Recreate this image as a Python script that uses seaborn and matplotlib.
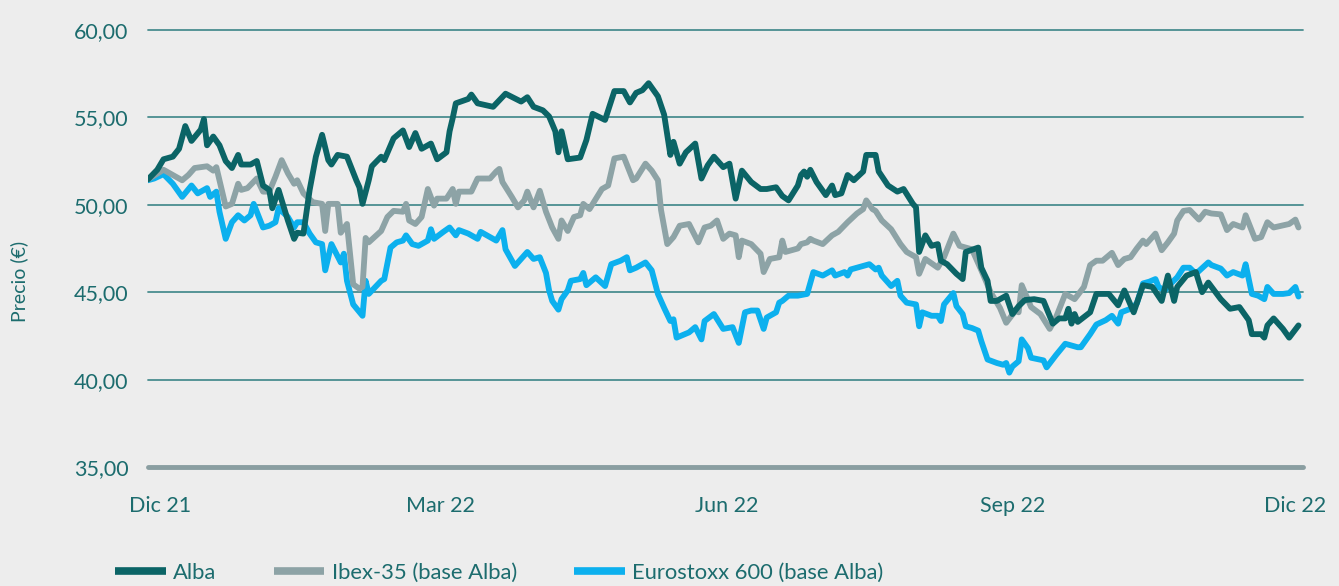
import pandas as pd
import matplotlib.pyplot as plt
import seaborn as sns
from matplotlib.lines import Line2D

# -----------------------------------
# Data (days counted from INICIO, price in EUR)
# -----------------------------------
INICIO = pd.Timestamp("2021-11-27")

alba_dias = [0, 3, 5, 8, 10, 12, 14, 17, 18, 19, 21, 23, 25, 27, 29, 30, 33, 35, 37, 39,
             40, 42, 45, 47, 48, 50, 52, 54, 56, 58, 59, 61, 64, 67, 68, 69, 71, 72, 75, 76,
             79, 82, 84, 86, 88, 91, 93, 96, 97, 98, 99, 103, 104, 106, 111, 115, 120, 122, 124, 127,
             129, 131, 132, 133, 135, 139, 141, 143, 147, 150, 153, 155, 157, 159, 161, 164, 166, 168, 169, 171,
             173, 176, 178, 180, 182, 185, 187, 189, 191, 194, 197, 199, 202, 204, 206, 209, 210, 211, 212, 213,
             215, 218, 220, 221, 223, 225, 227, 230, 231, 234, 235, 238, 241, 243, 246, 247, 248, 250, 252, 254,
             255, 257, 260, 262, 263, 267, 268, 270, 271, 273, 276, 278, 280, 282, 285, 288, 291, 293, 295, 296,
             297, 298, 299, 303, 305, 309, 312, 314, 317, 320, 323, 326, 328, 330, 331, 334, 337, 339, 341, 345,
             348, 351, 354, 355, 358, 359, 360, 362, 365, 367, 370]
alba_precio = [51.45, 52.0, 52.6, 52.75, 53.2, 54.5, 53.65, 54.3, 54.9, 53.4, 53.9, 53.4, 52.5, 52.1, 52.85, 52.3, 52.3, 52.5, 51.1, 50.85,
               49.8, 50.85, 49.1, 48.05, 48.4, 48.35, 50.85, 52.75, 54.0, 52.55, 52.3, 52.85, 52.75, 51.4, 51.0, 50.05, 51.4, 52.2, 52.75, 52.55,
               53.8, 54.25, 53.3, 54.1, 53.2, 53.5, 52.6, 53.0, 54.2, 54.95, 55.8, 56.05, 56.3, 55.8, 55.6, 56.35, 55.9, 56.15, 55.6, 55.4,
               55.05, 54.2, 53.0, 54.2, 52.6, 52.7, 53.7, 55.2, 54.85, 56.5, 56.5, 55.85, 56.4, 56.55, 56.95, 56.2, 55.15, 52.85, 53.6, 52.35,
               53.0, 53.5, 51.5, 52.25, 52.75, 52.15, 52.35, 50.35, 51.95, 51.3, 50.9, 50.9, 51.0, 50.5, 50.25, 51.1, 51.7, 51.9, 51.6, 52.0,
               51.3, 50.55, 51.1, 50.55, 50.65, 51.7, 51.4, 51.9, 52.85, 52.85, 51.9, 51.1, 50.75, 50.9, 50.05, 49.85, 47.3, 48.25, 47.65, 47.75,
               46.8, 46.6, 46.05, 45.75, 47.3, 47.55, 46.4, 45.65, 44.5, 44.5, 44.8, 43.75, 44.2, 44.55, 44.6, 44.5, 43.2, 43.5, 43.5, 44.05,
               43.2, 43.75, 43.3, 43.85, 44.9, 44.9, 44.25, 45.1, 43.85, 45.4, 45.3, 44.5, 45.95, 44.5, 45.3, 45.95, 46.15, 45.0, 45.55, 44.6,
               44.05, 44.15, 43.4, 42.6, 42.6, 42.4, 43.1, 43.5, 42.9, 42.4, 43.1]

ibex_dias = [0, 5, 8, 11, 13, 15, 19, 21, 22, 23, 25, 27, 29, 30, 32, 35, 37, 39, 41, 43,
             45, 47, 48, 50, 53, 56, 57, 58, 61, 62, 64, 66, 68, 69, 70, 71, 75, 77, 79, 82,
             83, 84, 86, 88, 90, 92, 93, 96, 98, 99, 100, 104, 106, 110, 112, 113, 114, 117, 119, 121,
             122, 124, 126, 128, 130, 132, 133, 135, 137, 139, 140, 142, 146, 148, 150, 153, 156, 157, 160, 162,
             164, 165, 167, 169, 171, 174, 177, 179, 181, 183, 185, 187, 189, 190, 191, 194, 197, 198, 200, 203,
             204, 205, 209, 210, 212, 213, 214, 217, 220, 222, 225, 228, 230, 231, 233, 234, 236, 239, 242, 244,
             247, 248, 250, 254, 256, 259, 261, 263, 265, 268, 271, 274, 276, 279, 280, 281, 284, 287, 290, 292,
             295, 298, 301, 303, 305, 307, 310, 312, 314, 316, 318, 320, 321, 324, 326, 328, 330, 331, 333, 335,
             338, 340, 342, 345, 347, 349, 352, 353, 356, 358, 360, 362, 367, 369, 370]
ibex_precio = [51.45, 52.0, 51.7, 51.4, 51.7, 52.1, 52.2, 51.95, 52.15, 51.4, 49.9, 50.05, 51.2, 50.85, 50.95, 51.5, 50.75, 50.75, 51.6, 52.55,
               51.8, 51.2, 51.4, 50.65, 50.15, 50.05, 48.5, 50.05, 50.05, 48.4, 48.9, 45.45, 45.2, 45.3, 48.1, 47.85, 48.5, 49.3, 49.65, 49.6,
               50.05, 49.1, 48.9, 49.3, 50.9, 49.95, 50.35, 50.35, 50.9, 50.05, 50.75, 50.75, 51.5, 51.5, 51.9, 52.05, 51.3, 50.45, 49.85, 50.25,
               50.75, 49.85, 50.8, 49.6, 48.7, 48.05, 49.1, 48.5, 49.3, 49.4, 50.05, 49.75, 50.9, 51.1, 52.65, 52.75, 51.4, 51.5, 52.35, 51.95,
               51.4, 49.7, 47.75, 48.15, 48.8, 48.9, 47.85, 48.7, 48.8, 49.1, 48.05, 48.35, 48.25, 47.0, 47.95, 47.75, 47.2, 46.15, 46.9, 47.0,
               47.95, 47.3, 47.5, 47.75, 47.85, 48.05, 47.95, 47.75, 48.25, 48.45, 49.0, 49.5, 49.75, 50.25, 49.75, 49.65, 49.1, 48.6, 47.75, 47.3,
               47.0, 46.05, 46.9, 46.4, 47.0, 48.35, 47.65, 47.55, 47.45, 46.25, 45.0, 44.1, 43.25, 43.95, 43.85, 45.4, 44.15, 43.75, 42.9, 43.55,
               44.9, 44.6, 45.3, 46.55, 46.8, 46.8, 47.25, 46.55, 46.9, 47.0, 47.5, 47.95, 47.75, 48.35, 47.4, 47.85, 48.35, 49.1, 49.65, 49.7,
               49.15, 49.6, 49.5, 49.45, 48.55, 48.9, 48.7, 49.4, 48.05, 48.15, 49.0, 48.7, 48.9, 49.15, 48.7]

euro_dias = [0, 2, 5, 8, 11, 14, 16, 19, 20, 22, 23, 25, 27, 29, 31, 33, 34, 37, 39, 41,
             42, 45, 47, 48, 50, 52, 54, 56, 57, 59, 62, 63, 64, 66, 69, 70, 71, 75, 76, 78,
             80, 82, 83, 85, 87, 90, 91, 92, 95, 97, 99, 100, 103, 106, 107, 109, 112, 114, 115, 118,
             120, 122, 124, 126, 128, 129, 130, 132, 133, 135, 136, 139, 140, 141, 144, 147, 149, 152, 154, 155,
             157, 160, 162, 164, 166, 168, 169, 170, 174, 176, 178, 179, 182, 185, 188, 190, 192, 194, 196, 198,
             199, 202, 203, 204, 206, 209, 212, 214, 217, 220, 221, 224, 225, 226, 232, 234, 235, 236, 239, 241,
             242, 244, 247, 248, 249, 252, 254, 255, 256, 259, 260, 262, 263, 265, 267, 268, 270, 273, 275, 276,
             277, 278, 280, 281, 283, 284, 288, 289, 292, 295, 299, 300, 303, 305, 308, 310, 312, 313, 316, 318,
             320, 322, 324, 325, 327, 329, 331, 333, 335, 337, 341, 342, 345, 347, 349, 352, 353, 355, 357, 359,
             360, 362, 365, 367, 369, 370]
euro_precio = [51.4, 51.5, 51.75, 51.2, 50.45, 51.1, 50.65, 50.95, 50.45, 50.75, 49.6, 48.05, 49.0, 49.4, 49.1, 49.4, 50.05, 48.7, 48.8, 49.0,
               49.8, 49.3, 48.7, 49.0, 49.0, 48.35, 47.85, 47.75, 46.25, 47.75, 46.7, 47.2, 45.65, 44.3, 43.65, 45.65, 44.9, 45.65, 45.75, 47.55,
               47.85, 47.95, 48.25, 47.75, 47.65, 47.95, 48.6, 48.05, 48.45, 48.7, 48.25, 48.55, 48.35, 48.05, 48.45, 48.25, 47.95, 48.55, 47.45, 46.5,
               46.9, 47.3, 46.9, 47.0, 46.1, 45.1, 44.5, 44.0, 44.6, 45.1, 45.65, 45.75, 46.1, 45.4, 45.85, 45.35, 46.6, 46.8, 47.0, 46.25,
               46.4, 46.7, 46.25, 44.9, 44.1, 43.35, 43.45, 42.4, 42.7, 43.0, 42.3, 43.35, 43.75, 42.9, 43.0, 42.1, 43.85, 43.95, 43.95, 42.9,
               43.55, 43.85, 44.4, 44.5, 44.8, 44.8, 44.9, 46.15, 45.95, 46.25, 45.95, 46.15, 45.95, 46.3, 46.6, 46.3, 46.4, 45.95, 45.35, 45.65,
               44.8, 44.4, 44.3, 43.05, 43.85, 43.65, 43.65, 43.35, 44.3, 44.95, 44.2, 43.75, 43.05, 42.95, 42.8, 42.2, 41.15, 40.95, 40.85, 40.95,
               40.4, 40.75, 41.05, 42.3, 41.8, 41.25, 41.1, 40.7, 41.4, 42.05, 41.85, 41.85, 42.6, 43.15, 43.4, 43.65, 43.2, 43.85, 44.05, 44.35,
               45.5, 45.6, 45.75, 45.3, 45.1, 45.5, 45.85, 46.4, 46.4, 46.05, 46.7, 46.55, 46.35, 45.95, 46.15, 45.95, 46.6, 44.9, 44.8, 44.6,
               45.3, 44.9, 44.9, 44.95, 45.3, 44.75]

series = ["Alba", "Ibex-35 (base Alba)", "Eurostoxx 600 (base Alba)"]
y_ticks = [35, 40, 45, 50, 55, 60]
y_tick_labels = ["35,00", "40,00", "45,00", "50,00", "55,00", "60,00"]
x_ticks = ["2021-12-01", "2022-03-01", "2022-06-01", "2022-09-01", "2022-12-01"]
x_tick_labels = ["Dic 21", "Mar 22", "Jun 22", "Sep 22", "Dic 22"]

# -----------------------------------
# Long-form table
# -----------------------------------
frames = []
for name, dias, precio in zip(series,
                              [alba_dias, ibex_dias, euro_dias],
                              [alba_precio, ibex_precio, euro_precio]):
    frames.append(pd.DataFrame({
        "fecha": INICIO + pd.to_timedelta(dias, unit="D"),
        "precio": precio,
        "serie": name,
    }))
df = pd.concat(frames, ignore_index=True)

# -----------------------------------
# Style
# -----------------------------------
BG = "#ededed"
TEXT = "#1c6c6e"
GRID = "#4a8d8f"
colors = {series[0]: "#0b6466", series[1]: "#8da3a6", series[2]: "#0cb0ee"}

sns.set_style("white")
plt.rcParams["font.family"] = ["Lato", "DejaVu Sans"]

fig = plt.figure(figsize=(13.39, 5.86), dpi=100, facecolor=BG)
ax = fig.add_axes([0.1105, 0.203, 0.8625, 0.746])
ax.set_facecolor(BG)

for v in y_ticks[1:]:
    ax.axhline(v, color=GRID, lw=1.3, zorder=1, clip_on=False)
ax.axhline(35, color="#8a9ea1", lw=3.5, zorder=1, clip_on=False)

# Alba drawn last so it sits on top of the two indices
sns.lineplot(data=df, x="fecha", y="precio", hue="serie", hue_order=series[::-1],
             palette=colors, linewidth=4.2, estimator=None, sort=True,
             legend=False, ax=ax, zorder=3)

ax.set_ylim(35, 60)
ax.set_xlim(INICIO, INICIO + pd.Timedelta(days=371.4))
ax.set_yticks(y_ticks)
ax.set_yticklabels(y_tick_labels)
ax.set_xticks(pd.to_datetime(x_ticks))
ax.set_xticklabels(x_tick_labels)
ax.tick_params(length=0, labelsize=15.5, colors=TEXT)
ax.tick_params(axis="y", pad=14)
ax.tick_params(axis="x", pad=21)
for s in ax.spines.values():
    s.set_visible(False)

ax.set_xlabel("")
ax.set_ylabel("Precio (€)", fontsize=14, color=TEXT)
ax.yaxis.set_label_coords(-0.104, 0.424)

handles = [Line2D([0], [0], color=colors[s], lw=5.5, solid_capstyle="butt") for s in series]
fig.legend(handles, series, loc="center left", bbox_to_anchor=(0.086, 0.022), ncol=3,
           frameon=False, fontsize=15.8, labelcolor=TEXT, handlelength=2.3,
           handletextpad=0.35, columnspacing=2.6, borderpad=0, borderaxespad=0)

fig.savefig("out.png", dpi=100, facecolor=BG)
